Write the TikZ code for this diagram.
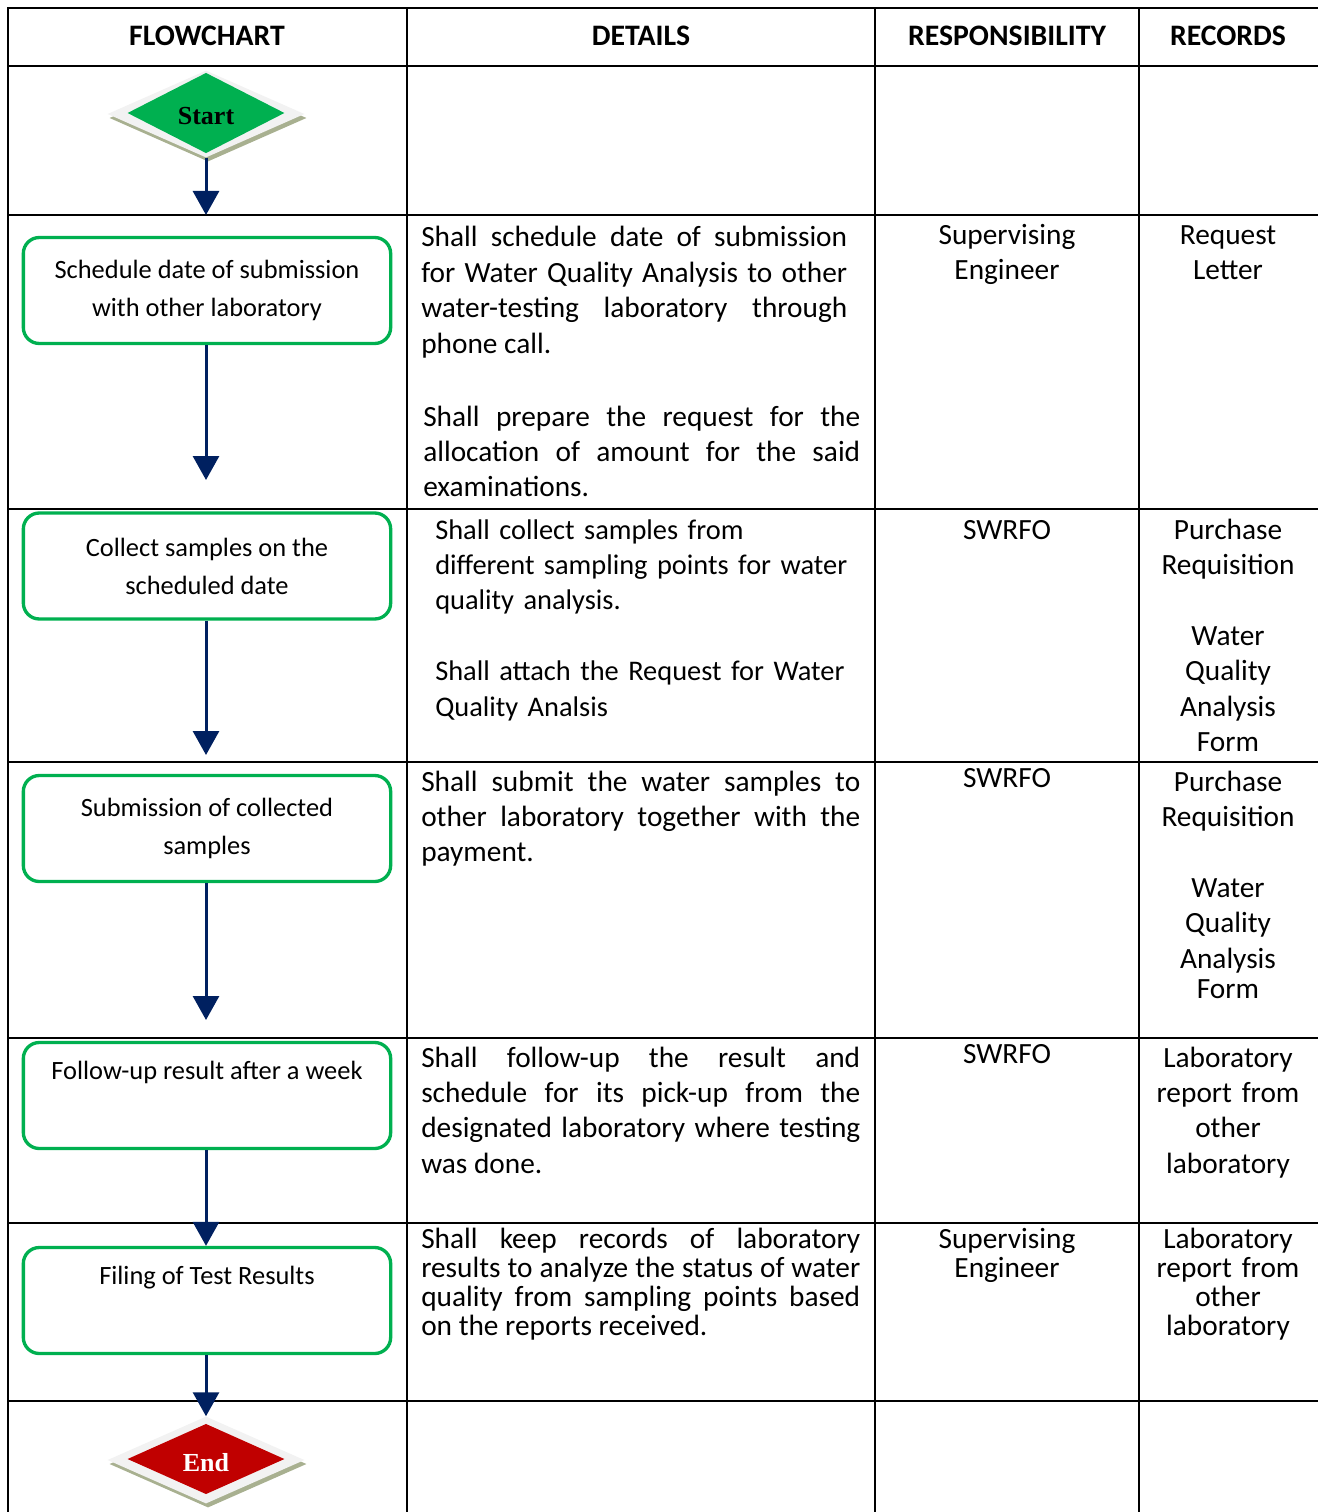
\documentclass[tikz,border=0pt]{standalone}
\usepackage{fontspec}
\setmainfont{Carlito}
\newfontfamily\timesfont{Liberation Serif}
\usepackage{tikz}
\usetikzlibrary{shapes.geometric}
\usetikzlibrary{arrows.meta}
\usetikzlibrary{calc}

\definecolor{boxgreen}{HTML}{00B050}
\definecolor{endred}{HTML}{C00000}
\definecolor{navy}{HTML}{002060}
\definecolor{plategray}{HTML}{F2F2F2}
\definecolor{plateshadow}{HTML}{A8B090}

\tikzset{
  rule/.style={line width=1.7pt, line cap=rect},
  head/.style={anchor=base, inner sep=0pt, font=\fontsize{22.3}{26}\selectfont\bfseries},
  flowbox/.style={draw=boxgreen, line width=2.5pt, rounded corners=12pt, minimum width=275.5pt, minimum height=79.5pt, align=center, inner sep=0pt, font=\fontsize{19.8}{28.5}\selectfont},
  plate/.style={diamond, fill=plategray, minimum width=147.75pt, minimum height=65.25pt, inner sep=0pt},
  plateshade/.style={plate, fill=plateshadow},
  terminal/.style={diamond, minimum width=117.75pt, minimum height=51pt, inner sep=0pt, text height=18pt, text depth=0pt, font=\timesfont\bfseries\fontsize{19.5}{20}\selectfont},
  flow/.style={draw=navy, line width=2.25pt, -{Triangle[width=19.5pt,length=18pt]}},
  detail/.style={anchor=base west, inner sep=0pt, align=justify, font=\fontsize{22}{26.6}\selectfont},
  cell/.style={anchor=base, inner sep=0pt, align=center, font=\fontsize{22}{26.6}\selectfont}
}

\begin{document}
\begin{tikzpicture}[x=0.75pt, y=-0.75pt]
\useasboundingbox (0,0) rectangle (1317,1512);

\foreach \y in {8,66,215,509,762,1038,1223,1401}
  \draw[rule] (8,\y) -- (1317,\y);
\foreach \x in {8,407,875,1139}
  \draw[rule] (\x,8) -- (\x,1512);

\node[head] (hflow) at (207,45.5) {FLOWCHART};
\node[head] (hdetails) at (641,45.5) {DETAILS};
\node[head] (hresp) at (1007,45.5) {RESPONSIBILITY};
\node[head] (hrecords) at (1228,45.5) {RECORDS};

\node[plateshade] (startshade) at (208,118) {};
\node[plate] (start) at (206,114) {};
\node[terminal, fill=boxgreen] (startlabel) at (206,113) {Start};

\node[flowbox] (schedule) at (207,290.5) {Schedule date of submission\\with other laboratory};
\node[flowbox] (collect) at (207,566) {Collect samples on the\\scheduled date};
\node[flowbox] (submit) at (207,828.5) {Submission of collected\\samples};
\node[flowbox] (followup) at (207,1095.5) {Follow-up result after a week\\\strut};
\node[flowbox] (filing) at (207,1300.5) {Filing of Test Results\\\strut};

\node[plateshade] (stopshade) at (208,1464) {};
\node[plate] (stop) at (206,1460) {};
\node[terminal, fill=endred, text=white] (stoplabel) at (206,1459) {End};

\coordinate (startend) at (206,215);
\coordinate (scheduleend) at (206,480);
\coordinate (collectend) at (206,755);
\coordinate (submitend) at (206,1020);

\draw[flow] (start.south) -- (startend);
\draw[flow] (schedule.south -| startend) -- (scheduleend);
\draw[flow] (collect.south -| startend) -- (collectend);
\draw[flow] (submit.south -| startend) -- (submitend);
\draw[flow] (followup.south -| startend) -- (filing.north -| startend);
\draw[flow] (filing.south -| startend) -- (stop.north);

\node[detail, text width=319.5pt] (details1a) at (421,247) {Shall schedule date of submission\linebreak for Water Quality Analysis to other\linebreak water-testing laboratory through\linebreak phone call.};
\node[detail, text width=327.75pt] (details1b) at (423,426) {Shall prepare the request for the\linebreak allocation of amount for the said\linebreak examinations.};
\node[detail, text width=318.75pt, align=left, font=\fontsize{21.3}{26.6}\selectfont] (details2) at (435,539) {Shall collect samples from\\different sampling points for water\\quality analysis.\\[26.6pt]Shall attach the Request for Water\\Quality Analsis};
\node[detail, text width=329.25pt] (details3) at (421,791) {Shall submit the water samples to\linebreak other laboratory together with the\linebreak payment.};
\node[detail, text width=329.25pt] (details4) at (421,1067) {Shall follow-up the result and\linebreak schedule for its pick-up from the\linebreak designated laboratory where testing\linebreak was done.};
\node[detail, text width=329.25pt, font=\fontsize{22}{21.9}\selectfont] (details5) at (421,1248) {Shall keep records of laboratory\linebreak results to analyze the status of water\linebreak quality from sampling points based\linebreak on the reports received.};

\node[cell, text width=180pt] (resp1) at (1007,244) {Supervising\\Engineer};
\node[cell, text width=180pt] (resp2) at (1007,539) {SWRFO};
\node[cell, text width=180pt] (resp3) at (1007,787) {SWRFO};
\node[cell, text width=180pt] (resp4) at (1007,1063) {SWRFO};
\node[cell, text width=180pt, font=\fontsize{22}{21.9}\selectfont] (resp5) at (1007,1248) {Supervising\\Engineer};

\node[cell, text width=127.5pt] (records1) at (1228,244) {Request\\Letter};
\node[cell, text width=127.5pt] (records2) at (1228,539) {Purchase\\Requisition\\[26.6pt]Water\\Quality\\Analysis\\Form};
\node[cell, text width=127.5pt] (records3) at (1228,791) {Purchase\\Requisition\\[26.6pt]Water\\Quality\\Analysis\\[-4pt]Form};
\node[cell, text width=127.5pt] (records4) at (1228,1067) {Laboratory\\report from\\other\\laboratory};
\node[cell, text width=127.5pt, font=\fontsize{22}{21.9}\selectfont] (records5) at (1228,1248) {Laboratory\\report from\\other\\laboratory};
\end{tikzpicture}
\end{document}
